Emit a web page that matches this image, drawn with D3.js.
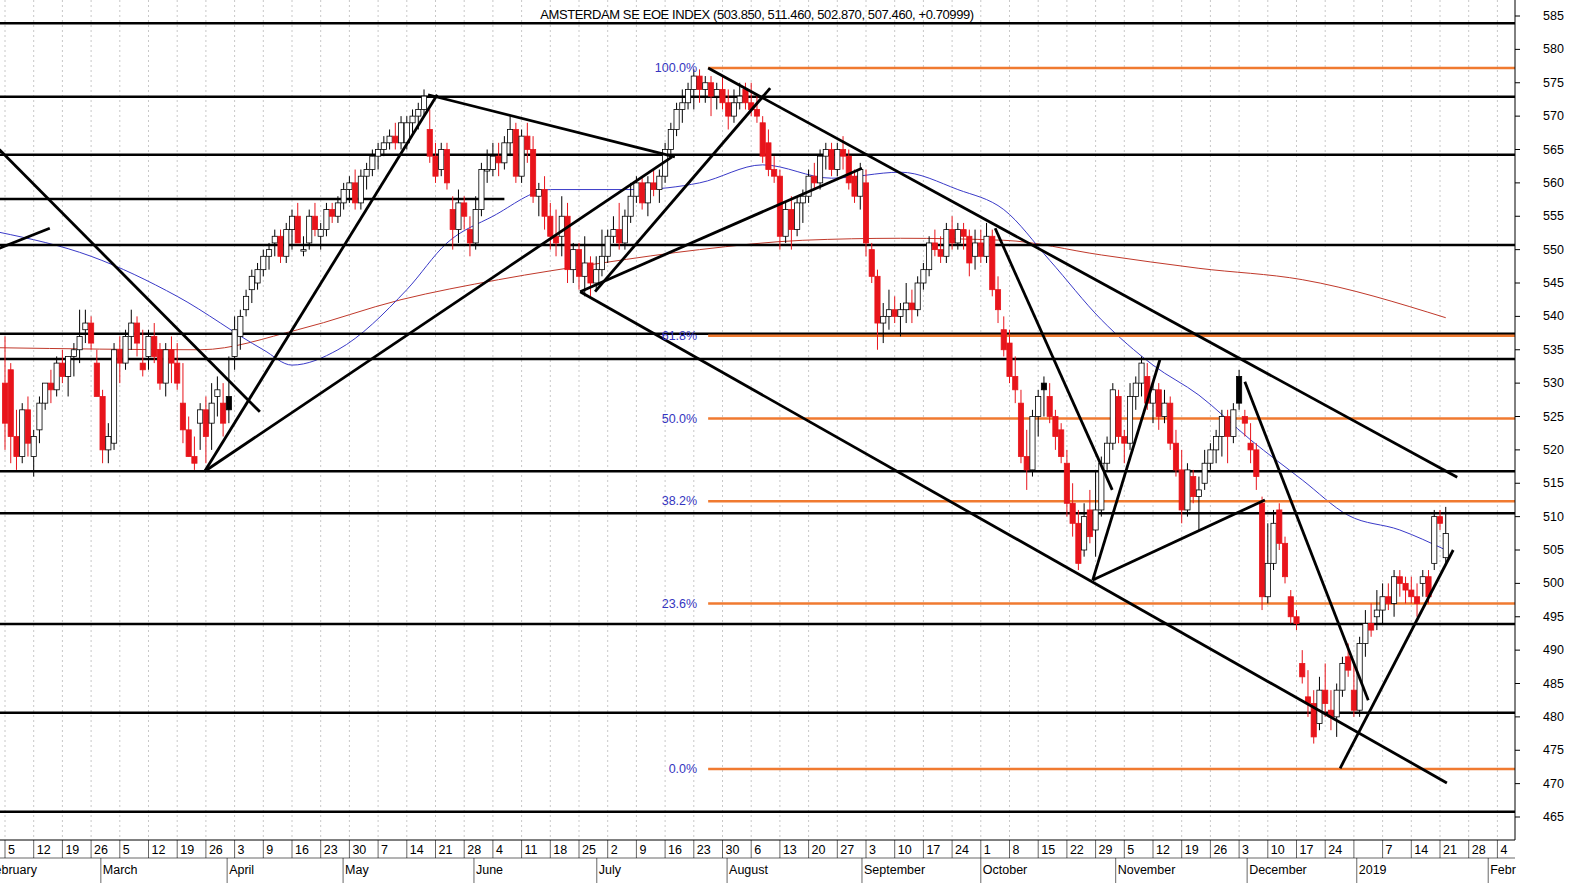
<!DOCTYPE html>
<html><head><meta charset="utf-8">
<script src="https://cdn.jsdelivr.net/npm/d3@7"></script>
<style>body{margin:0;background:#fff}svg{display:block;font-family:"Liberation Sans",Arial,sans-serif}</style>
</head><body><svg id="c" width="1575" height="883"></svg>
<script>
// Daily candles [open, high, low, close], Feb 5 2018 .. Jan 22 2019 (one row per week)
const candles = [
[530,537,520,524],[532,533,518,522],[522,526,517,519],[519,527,518,526],[526,528,519,521],
[519,523,516,522],[523,528,521,527],[527,530,526,530],[530,532,527,529],[529,534,528,533],
[533,535,530,531],[531,534,528,534],[534,536,531,535],[535,541,533,537],[538,541,536,539],
[539,540,535,536],[533,535,528,528],[528,529,518,520],[520,524,518,522],[521,536,520,535],
[535,537,530,533],[533,538,532,537],[537,541,535,539],[539,540,534,536],[533,538,531,532],
[534,538,532,537],[537,539,533,534],[535,536,529,530],[530,536,528,535],[535,537,530,533],
[533,536,529,530],[527,533,521,523],[523,525,519,519],[519,522,517,518],[524,527,520,526],
[526,528,518,522],[524,530,520,527],[528,531,525,529],[527,530,522,524],[528,534,524,526],
[534,540,532,538],[537,541,535,540],[541,544,540,543],[544,547,542,546],[545,548,544,547],
[547,550,546,549],[549,551,547,550],[551,553,549,552],[552,553,548,549],[549,554,548,553],
[553,556,550,555],[555,557,551,551],[550,552,549,550],[551,556,550,555],[555,557,552,553],
[552,554,550,553],[553,557,552,556],[556,557,554,555],[555,558,554,557],[557,560,556,559],
[559,561,557,560],[560,562,556,557],[557,562,556,561],[561,563,559,562],[562,565,561,564],
[564,566,562,565],[565,567,564,566],[566,568,565,567],[567,569,565,566],[566,570,565,569],
[566,570,565,569],[569,571,567,570],[570,572,568,571],[571,574,570,573],[568,571,563,564],
[564,566,560,561],[562,566,561,565],[565,566,559,560],[556,558,550,553],[553,559,551,557],
[557,558,553,555],[553,555,549,551],[551,558,550,556],[556,563,555,562],[562,565,560,562],
[562,566,561,564],[564,566,561,563],[563,567,562,566],[566,570,564,568],[568,569,560,561],
[561,568,560,567],[567,569,563,565],[565,567,557,558],[558,560,555,559],[559,561,553,555],
[555,557,550,552],[552,556,549,551],[552,558,549,555],[555,557,545,547],[547,551,545,550],
[550,551,544,546],[546,552,543,548],[548,549,543,545],[545,549,544,547],[547,553,546,549],
[549,553,548,552],[552,555,551,553],[553,557,550,551],[551,556,550,555],[555,560,554,558],
[558,561,557,560],[560,561,556,557],[557,561,555,560],[560,562,558,559],[559,562,557,561],
[561,566,560,565],[565,569,564,568],[568,572,567,571],[571,574,569,572],[572,575,571,574],
[574,577,571,576],[576,577,572,574],[574,576,572,575],[575,576,570,573],[573,575,571,574],
[574,576,571,572],[572,574,568,570],[570,574,569,572],[572,575,571,573],[574,575,571,572],
[572,575,570,571],[571,573,569,570],[569,570,563,564],[566,568,561,562],[562,564,560,561],
[561,562,550,552],[552,557,551,556],[556,558,550,553],[553,558,552,557],[557,559,554,558],
[558,562,557,561],[561,563,559,560],[560,565,559,564],[564,566,562,565],[565,566,561,562],
[562,566,561,565],[565,567,562,564],[564,565,559,560],[561,562,557,558],[558,563,556,562],
[560,562,549,551],[550,551,545,546],[546,547,535,539],[539,542,536,540],[540,544,538,541],
[541,543,539,540],[540,542,537,541],[541,545,539,542],[542,544,539,541],[541,546,540,545],
[545,548,544,547],[547,552,546,551],[551,553,549,550],[550,552,548,549],[549,554,548,553],
[553,555,550,551],[551,554,550,553],[553,554,550,552],[552,553,546,548],[549,553,547,551],
[551,553,548,549],[549,554,548,552],[552,553,543,544],[544,546,539,541],[538,540,534,535],
[536,538,530,531],[531,534,527,529],[527,529,518,519],[519,523,514,517],[517,526,516,525],
[525,529,522,528],[530,531,525,529],[528,530,524,525],[525,526,520,522],[523,524,518,519],
[518,520,510,512],[512,515,507,509],[509,511,502,503],[505,512,504,510],[511,514,506,507],
[508,517,504,511],[511,519,510,518],[518,522,517,521],[521,530,520,529],[528,529,521,522],
[522,523,518,521],[521,530,520,528],[528,531,526,530],[530,534,528,533],[531,533,526,527],
[527,530,524,529],[529,530,523,525],[525,529,524,527],[527,528,520,521],[521,523,516,517],
[517,520,509,511],[511,518,510,517],[516,517,512,513],[513,516,508,514],[515,520,514,518],
[518,521,517,520],[520,523,518,522],[522,526,519,525],[525,526,518,522],[522,527,521,526],
[531,532,526,527],[525,526,522,524],[521,524,518,520],[520,521,514,516],[512,513,496,498],
[498,509,497,503],[503,511,502,509],[511,512,505,506],[506,507,500,501],[498,499,494,495],
[495,496,493,494],[488,490,485,486],[483,487,480,482],[482,484,476,477],[479,486,478,484],
[484,488,480,482],[481,484,478,480],[480,485,477,484],[484,489,483,488],[489,491,486,487],
[484,488,480,481],[481,492,480,491],[491,496,489,494],[494,497,492,493],[495,499,493,496],
[496,500,494,498],[498,500,496,497],[497,502,495,501],[501,502,498,500],[500,501,497,499],
[499,501,497,498],[498,500,495,497],[500,502,498,501],[501,502,497,498],[503,511,502,510],
[510,511,508,509],[503.85,511.46,502.87,507.46]
];
// moving averages sampled [day index, value]
const ma50 = [[-1,552.6],[15,549],[30,543],[45,535],[50,532.7],[58,535],[70,544],[77,551],[85,555],[95,559],[110,559],[121,560],[132,562.7],[144,560.7],[156,561.6],[166,559],[174,556],[182,548.4],[191,539.5],[200,532.7],[208,528.2],[217,521.5],[226,515.5],[234,510.2],[243,508],[251,505]];
const ma200 = [[-1,535.3],[34,535],[51,538],[69,542.5],[86,545.5],[104,548],[121,550],[139,551.4],[156,551.7],[174,551.4],[191,549.2],[208,547.2],[226,545.5],[251,539.8]];
// horizontal support/resistance levels [price, fromIndex, toIndex]
const hLevels = [[583.9,-2,262],[572.9,-2,262],[564.2,-2,262],[557.6,-2,87],[550.7,-2,262],[537.4,-2,262],[533.6,-2,262],[516.8,-2,262],[510.5,-2,262],[493.9,-2,262],[480.6,-2,262],[465.8,-2,262]];
// Fibonacci retracement
const fibLabels = ["100.0%","61.8%","50.0%","38.2%","23.6%","0.0%"];
const fibRatios = [1,0.618,0.5,0.382,0.236,0];
const fibHigh = 577.2, fibLow = 472.2, fibStart = 122.5;
// trend lines [i1,p1,i2,p2]
const trends = [[-1,565,44.4,525.7],[-1,550.2,7.8,553.2],[34.8,516.8,75.3,573.2],[34.8,516.8,116.2,563.9],[73.7,573.2,116.7,563.9],[102.8,543.7,133.3,574.2],[100.2,543.7,149.3,562.2],[100.2,543.7,251.2,470.1],[122.5,577.2,253,515.9],[172.5,553.2,192.9,514],[189.5,500.5,201.2,533.5],[189.5,500.5,219.5,512.5],[216,530.2,237.5,482.5],[232.6,472.3,252.3,505]];
const weekLabels = ["5","12","19","26","5","12","19","26","3","9","16","23","30","7","14","21","28","4","11","18","25","2","9","16","23","30","6","13","20","27","3","10","17","24","1","8","15","22","29","5","12","19","26","3","10","17","24","","7","14","21","28","4"];
const months = [["February",-3.5],["March",16.7],["April",38.7],["May",58.9],["June",81.7],["July",103.1],["August",125.8],["September",149.3],["October",170],["November",193.5],["December",216.4],["2019",235.5],["Febr",258.4]];
const yTicks = d3.range(465,586,5);

const svg = d3.select("#c");
const x = d3.scaleLinear().domain([0,260]).range([5,5+260*5.74]);
const y = d3.scaleLinear().domain([465,585]).range([817,16]);
const R = 1515, B = 840;
svg.append("clipPath").attr("id","cl").append("rect").attr("x",0).attr("y",0).attr("width",R).attr("height",B);
const plot = svg.append("g").attr("clip-path","url(#cl)");

weekLabels.forEach((l,k)=>{
  plot.append("line").attr("x1",x(5*k)).attr("x2",x(5*k)).attr("y1",0).attr("y2",B)
   .attr("stroke","#c8c8c8").attr("stroke-dasharray","2,3");
});
const line = d3.line().x(d=>x(d[0])).y(d=>y(d[1])).curve(d3.curveMonotoneX);
plot.append("path").attr("d",line(ma200)).attr("fill","none").attr("stroke","#c0392b").attr("stroke-width",1);
plot.append("path").attr("d",line(ma50)).attr("fill","none").attr("stroke","#3a3ac8").attr("stroke-width",1);
hLevels.forEach(h=>plot.append("line").attr("x1",x(h[1])).attr("x2",h[2]>255?R:x(h[2])).attr("y1",y(h[0])).attr("y2",y(h[0])).attr("stroke","#000").attr("stroke-width",2.5));
fibRatios.forEach((r,i)=>{
  const p = fibLow + r*(fibHigh-fibLow);
  plot.append("line").attr("x1",x(fibStart)).attr("x2",R).attr("y1",y(p)).attr("y2",y(p)).attr("stroke","#f07a30").attr("stroke-width",2.5);
  svg.append("text").attr("x",x(fibStart)-11).attr("y",y(p)+4).attr("text-anchor","end").attr("font-size",12.5).attr("fill","#3535c0").text(fibLabels[i]);
});
candles.forEach((c,i)=>{
  const [o,h,l,cl] = c, prev = i?candles[i-1][3]:o;
  const col = cl>=o ? "#fff" : (cl>prev ? "#000" : "#e8141b");
  const stroke = cl>=o ? "#000" : (cl>prev ? "#000" : "#e8141b");
  const cx = x(i);
  plot.append("line").attr("x1",cx).attr("x2",cx).attr("y1",y(h)).attr("y2",y(l)).attr("stroke",stroke).attr("stroke-width",1);
  const top = y(Math.max(o,cl)), hgt = Math.max(1.5, Math.abs(y(o)-y(cl)));
  plot.append("rect").attr("x",cx-2.6).attr("y",top).attr("width",5.2).attr("height",hgt).attr("fill",col).attr("stroke",stroke).attr("stroke-width",0.8);
});
trends.forEach(t=>plot.append("line").attr("x1",x(t[0])).attr("y1",y(t[1])).attr("x2",x(t[2])).attr("y2",y(t[3])).attr("stroke","#000").attr("stroke-width",2.8));

svg.append("line").attr("x1",R).attr("x2",R).attr("y1",0).attr("y2",B).attr("stroke","#000");
yTicks.forEach(v=>{
  svg.append("line").attr("x1",R).attr("x2",R+5).attr("y1",y(v)).attr("y2",y(v)).attr("stroke","#000");
  svg.append("text").attr("x",R+28).attr("y",y(v)+4).attr("font-size",12.5).text(v);
});
svg.append("line").attr("x1",0).attr("x2",R).attr("y1",B).attr("y2",B).attr("stroke","#000");
weekLabels.forEach((l,k)=>{
  svg.append("line").attr("x1",x(5*k)).attr("x2",x(5*k)).attr("y1",B).attr("y2",B+18).attr("stroke","#000").attr("stroke-width",0.6);
  svg.append("text").attr("x",x(5*k)+3).attr("y",B+14).attr("font-size",12.5).text(l);
});
months.forEach(m=>{
  const mx = x(m[1]);
  svg.append("line").attr("x1",mx).attr("x2",mx).attr("y1",B+18).attr("y2",883).attr("stroke","#000").attr("stroke-width",0.6);
  svg.append("text").attr("x",mx+2).attr("y",B+34).attr("font-size",12.5).text(m[0]);
});
svg.append("line").attr("x1",0).attr("x2",R).attr("y1",B+18).attr("y2",B+18).attr("stroke","#000").attr("stroke-width",0.6);
svg.append("text").attr("x",757).attr("y",19).attr("text-anchor","middle").attr("font-size",13).attr("letter-spacing",-0.4)
  .text("AMSTERDAM SE EOE INDEX (503.850, 511.460, 502.870, 507.460, +0.70999)");
</script></body></html>
